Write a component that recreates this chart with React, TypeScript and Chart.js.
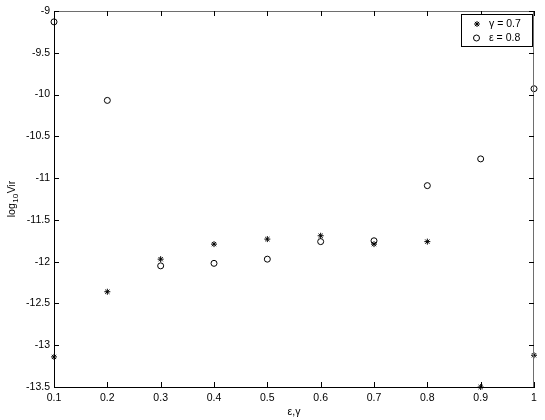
import React, { useEffect, useRef } from "react";
import { Chart, registerables } from "chart.js";

Chart.register(...registerables);

const xValues = [0.1, 0.2, 0.3, 0.4, 0.5, 0.6, 0.7, 0.8, 0.9, 1.0];
const gammaSeries = [-13.14, -12.36, -11.97, -11.79, -11.73, -11.69, -11.79, -11.76, -13.5, -13.12];
const epsilonSeries = [-9.13, -10.07, -12.05, -12.02, -11.97, -11.76, -11.75, -11.09, -10.77, -9.93];
const seriesLabels = ["γ = 0.7", "ε = 0.8"];
const xAxisTitle = "ε,γ";
const yAxisTitleParts = ["log", "10", "Vir"];
const xRange = [0.1, 1.0];
const yRange = [-13.5, -9];
const xStep = 0.1;
const yStep = 0.5;

const FONT = "'Liberation Sans', Arial, Helvetica, sans-serif";

function fmt(v: number): string {
  const r = Math.round(v * 100) / 100;
  return String(r);
}

function drawStar(ctx: CanvasRenderingContext2D, x: number, y: number, r: number) {
  ctx.beginPath();
  ctx.moveTo(x - r, y);
  ctx.lineTo(x + r, y);
  ctx.moveTo(x, y - r);
  ctx.lineTo(x, y + r);
  const d = r * Math.SQRT1_2;
  ctx.moveTo(x - d, y - d);
  ctx.lineTo(x + d, y + d);
  ctx.moveTo(x - d, y + d);
  ctx.lineTo(x + d, y - d);
  ctx.stroke();
}

const matlabBox = {
  id: "matlabBox",
  afterDraw(chart: any) {
    const { ctx, chartArea, scales } = chart;
    const { left, right, top, bottom } = chartArea;
    const xs = scales.x;
    const ys = scales.y;
    const tl = 5;
    ctx.save();
    ctx.lineWidth = 1;
    // top & right box lines
    ctx.strokeStyle = "#6e6e6e";
    ctx.beginPath();
    ctx.moveTo(left, Math.round(top) + 0.5);
    ctx.lineTo(right, Math.round(top) + 0.5);
    ctx.moveTo(Math.round(right) - 0.5, top);
    ctx.lineTo(Math.round(right) - 0.5, bottom);
    ctx.stroke();
    // ticks
    ctx.strokeStyle = "#000";
    ctx.beginPath();
    xs.ticks.forEach((t: any) => {
      const px = Math.round(xs.getPixelForValue(t.value)) + 0.5;
      ctx.moveTo(px, bottom);
      ctx.lineTo(px, bottom - tl);
      ctx.moveTo(px, top);
      ctx.lineTo(px, top + tl);
    });
    ys.ticks.forEach((t: any) => {
      const py = Math.round(ys.getPixelForValue(t.value)) + 0.5;
      ctx.moveTo(left, py);
      ctx.lineTo(left + tl, py);
      ctx.moveTo(right, py);
      ctx.lineTo(right - tl, py);
    });
    ctx.stroke();

    // y axis title with subscript
    ctx.fillStyle = "#000";
    const big = `10.5px ${FONT}`;
    const small = `8px ${FONT}`;
    ctx.font = big;
    const w0 = ctx.measureText(yAxisTitleParts[0]).width;
    const w2 = ctx.measureText(yAxisTitleParts[2]).width;
    ctx.font = small;
    const w1 = ctx.measureText(yAxisTitleParts[1]).width;
    const total = w0 + w1 + w2 + 1;
    const cy = (top + bottom) / 2;
    ctx.save();
    ctx.translate(15, cy);
    ctx.rotate(-Math.PI / 2);
    ctx.textBaseline = "alphabetic";
    ctx.textAlign = "left";
    let cx = -total / 2;
    ctx.font = big;
    ctx.fillText(yAxisTitleParts[0], cx, 0);
    cx += w0 + 0.5;
    ctx.font = small;
    ctx.fillText(yAxisTitleParts[1], cx, 2.5);
    cx += w1 + 0.5;
    ctx.font = big;
    ctx.fillText(yAxisTitleParts[2], cx, 0);
    ctx.restore();

    // legend
    const bx = 461.5, by = 14.5, bw = 71, bh = 32;
    ctx.fillStyle = "#fff";
    ctx.fillRect(bx, by, bw, bh);
    ctx.strokeStyle = "#000";
    ctx.strokeRect(bx, by, bw, bh);
    const labels = chart.data.datasets.map((d: any) => d.label);
    ctx.font = `10.5px ${FONT}`;
    ctx.fillStyle = "#000";
    ctx.textBaseline = "middle";
    ctx.textAlign = "left";
    drawStar(ctx, 477, 24, 3);
    ctx.fillText(labels[0], 489, 24.5);
    ctx.beginPath();
    ctx.arc(476.5, 38, 3, 0, Math.PI * 2);
    ctx.stroke();
    ctx.fillText(labels[1], 489, 38.5);
    ctx.restore();
  },
};

export default function App() {
  const canvasRef = useRef<HTMLCanvasElement | null>(null);

  useEffect(() => {
    const canvas = canvasRef.current;
    if (!canvas) return;
    const chart = new Chart(canvas, {
      type: "scatter",
      data: {
        datasets: [
          {
            label: seriesLabels[0],
            data: xValues.map((x, i) => ({ x, y: gammaSeries[i] })),
            pointStyle: "star",
            radius: 3,
            borderColor: "#000",
            backgroundColor: "#000",
            borderWidth: 1,
            clip: false,
          } as any,
          {
            label: seriesLabels[1],
            data: xValues.map((x, i) => ({ x, y: epsilonSeries[i] })),
            pointStyle: "circle",
            radius: 3,
            borderColor: "#000",
            backgroundColor: "rgba(0,0,0,0)",
            borderWidth: 1,
            clip: false,
          } as any,
        ],
      },
      options: {
        responsive: false,
        animation: false,
        layout: { padding: { top: 11, right: 11, left: 0, bottom: 0 } },
        plugins: {
          legend: { display: false },
          tooltip: { enabled: false },
        },
        elements: { point: { hoverRadius: 3 } },
        scales: {
          x: {
            type: "linear",
            min: xRange[0],
            max: xRange[1],
            grid: { display: false, drawTicks: false },
            border: { display: true, color: "#000", width: 1 },
            ticks: {
              stepSize: xStep,
              padding: 5,
              color: "#000",
              maxRotation: 0,
              font: { family: FONT, size: 10.5 },
              callback: (v: any) => fmt(Number(v)),
            },
            title: {
              display: true,
              text: xAxisTitle,
              color: "#000",
              font: { family: FONT, size: 10.5 },
              padding: { top: 0, bottom: 2 },
            },
            afterFit: (s: any) => {
              s.height = 33;
            },
          },
          y: {
            type: "linear",
            min: yRange[0],
            max: yRange[1],
            grid: { display: false, drawTicks: false },
            border: { display: true, color: "#000", width: 1 },
            ticks: {
              stepSize: yStep,
              padding: 4,
              color: "#000",
              font: { family: FONT, size: 10.5 },
              callback: (v: any) => fmt(Number(v)),
            },
            title: { display: false },
            afterFit: (s: any) => {
              s.width = 54;
            },
          },
        },
      },
      plugins: [matlabBox],
    });
    return () => chart.destroy();
  }, []);

  return (
    <div style={{ position: "absolute", left: 0, top: 0, width: 545, height: 420, background: "#fff" }}>
      <canvas ref={canvasRef} width={545} height={420} />
    </div>
  );
}
